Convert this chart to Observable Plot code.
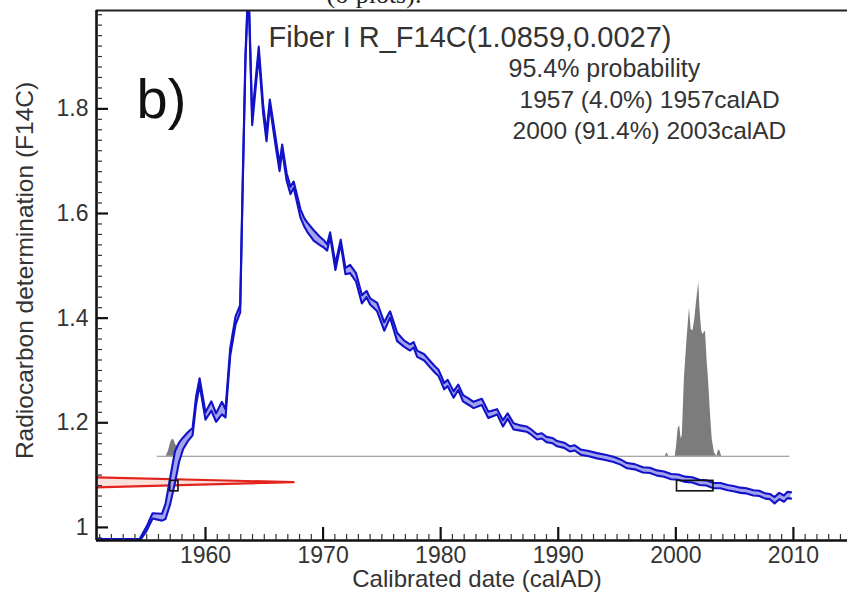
<!DOCTYPE html>
<html><head><meta charset="utf-8">
<script src="https://cdn.jsdelivr.net/npm/d3@7"></script>
<script src="https://cdn.jsdelivr.net/npm/@observablehq/plot@0.6"></script>
<style>body{margin:0;background:#fff;} #chart svg{display:block;overflow:hidden}</style>
</head><body><div id="chart"></div>
<script>
// Calibration curve (bomb curve), mean F14C and 1-sigma
const curveYears = [1950.73,1954.4,1955.0,1955.5,1956.3,1956.6,1957.0,1957.4,1957.75,1958.1,1958.5,1958.9,1959.2,1959.5,1960.0,1960.5,1960.9,1961.4,1961.7,1962.1,1962.55,1962.95,1963.15,1963.4,1963.65,1963.97,1964.53,1964.9,1965.19,1965.47,1965.95,1966.3,1966.52,1966.9,1967.23,1967.5,1968.08,1968.4,1968.65,1969.2,1969.7,1970.06,1970.35,1970.6,1971.05,1971.5,1971.9,1972.3,1972.8,1973.3,1973.7,1974.0,1974.6,1975.2,1975.7,1976.3,1976.9,1977.4,1977.7,1978.0,1978.6,1979.1,1979.5,1979.8,1980.0,1980.3,1980.6,1981.1,1981.5,1981.9,1982.4,1982.8,1983.5,1984.05,1984.8,1985.3,1985.7,1986.2,1986.8,1987.3,1987.6,1988.2,1988.6,1989.0,1989.5,1989.9,1990.5,1991.0,1991.4,1991.9,1992.6,1993.3,1994.0,1994.7,1995.3,1995.85,1996.5,1997.2,1997.8,1998.4,1999.0,1999.6,2000.2,2000.8,2001.4,2002.0,2002.6,2003.2,2003.8,2004.4,2004.9,2005.5,2006.0,2006.6,2007.1,2007.6,2008.0,2008.4,2008.8,2009.2,2009.5,2009.8];
const curveMean = [0.976,0.976,0.998,1.022,1.0195,1.0305,1.070,1.115,1.1435,1.161,1.1735,1.183,1.2425,1.2785,1.213,1.232,1.210,1.228,1.218,1.335,1.395,1.418,1.640,1.900,2.040,1.777,1.911,1.800,1.746,1.812,1.739,1.688,1.726,1.670,1.644,1.655,1.600,1.583,1.574,1.558,1.548,1.542,1.535,1.560,1.498,1.546,1.490,1.494,1.478,1.436,1.446,1.432,1.421,1.384,1.407,1.364,1.351,1.344,1.349,1.332,1.325,1.312,1.302,1.296,1.286,1.270,1.276,1.254,1.268,1.247,1.240,1.234,1.240,1.215,1.221,1.199,1.213,1.193,1.190,1.188,1.184,1.173,1.175,1.168,1.166,1.160,1.157,1.150,1.152,1.144,1.141,1.137,1.134,1.130,1.125,1.118,1.116,1.110,1.109,1.104,1.102,1.097,1.096,1.092,1.091,1.086,1.085,1.080,1.080,1.076,1.074,1.071,1.070,1.066,1.065,1.060,1.059,1.052,1.060,1.055,1.062,1.061];
const curveSigma = [0.002,0.002,0.004,0.005,0.0065,0.0145,0.025,0.030,0.0185,0.011,0.0085,0.007,0.0075,0.0065,0.007,0.009,0.008,0.012,0.008,0.007,0.008,0.007,0.006,0.006,0.008,0.008,0.008,0.008,0.008,0.006,0.008,0.007,0.006,0.007,0.007,0.006,0.008,0.008,0.009,0.010,0.008,0.007,0.006,0.004,0.006,0.004,0.006,0.008,0.008,0.008,0.006,0.006,0.008,0.008,0.006,0.008,0.006,0.006,0.005,0.006,0.006,0.006,0.006,0.006,0.006,0.006,0.006,0.006,0.005,0.006,0.006,0.006,0.006,0.006,0.005,0.006,0.005,0.006,0.005,0.005,0.005,0.005,0.005,0.005,0.005,0.005,0.005,0.005,0.005,0.005,0.005,0.005,0.005,0.005,0.005,0.005,0.005,0.005,0.005,0.005,0.005,0.005,0.005,0.005,0.005,0.005,0.005,0.005,0.005,0.005,0.005,0.005,0.005,0.005,0.005,0.005,0.005,0.006,0.006,0.006,0.006,0.006];

// Calibrated probability distributions (relative height)
const prob1957Years = [1956.65,1956.85,1957.05,1957.2,1957.35,1957.45,1957.6,1957.68,1957.72];
const prob1957 = [0,0.03,0.08,0.099,0.09,0.065,0.06,0.05,0];
const prob2000Years = [1999.1,1999.26,1999.4,1999.95,2000.05,2000.2,2000.33,2000.45,2000.55,2000.73,2000.96,2001.16,2001.3,2001.45,2001.6,2001.75,2001.95,2002.05,2002.2,2002.3,2002.52,2002.66,2002.8,2002.94,2003.09,2003.28,2003.5,2003.62,2003.73,2003.9];
const prob2000 = [0,0.02,0,0,0.05,0.16,0.175,0.1,0.12,0.45,0.68,0.85,0.73,0.72,0.78,0.88,1.0,0.85,0.72,0.70,0.72,0.55,0.42,0.25,0.1,0.02,0,0.035,0.035,0];

// Measurement (red) outline
const measurementF14C = 1.0859, measurementError = 0.0027;
const redEdgeF14C = [1.0765, 1.0865, 1.0955];
const redEdgeYear = [1950.73, 1967.5, 1950.73];

// 95.4% ranges
const rangeStart = [1957.0, 2000.1];
const rangeEnd = [1957.7, 2003.2];
const rangeLow = [1.069, 1.069];
const rangeHigh = [1.089, 1.089];
const rangeLabels = ["1957 (4.0%) 1957calAD", "2000 (91.4%) 2003calAD"];

const yTicks = [1, 1.2, 1.4, 1.6, 1.8];
const xTicks = [1960, 1970, 1980, 1990, 2000, 2010];

const X0 = 1950.73, X1 = 2014.6, Y0 = 0.975, Y1 = 1.988;
const W = 847, H = 597, ML = 96, MR = 0, MT = 10, MB = 57;
const pxX = (W - ML - MR) / (X1 - X0), pxY = (H - MT - MB) / (Y1 - Y0);
const probBase = 1.136, probScale = 0.3326;

const curve = curveYears.map((year, i) => ({year, mean: curveMean[i], sigma: curveSigma[i]}));
const p1957 = prob1957Years.map((year, i) => ({year, p: prob1957[i]}));
const p2000 = prob2000Years.map((year, i) => ({year, p: prob2000[i]}));
const red = redEdgeF14C.map((f, i) => ({f, year: redEdgeYear[i]}));
const ranges = rangeStart.map((s, i) => ({s, e: rangeEnd[i], lo: rangeLow[i], hi: rangeHigh[i]}));
const xMinor = d3.range(1951, 2015).filter(d => d % 10 !== 0);
const yMinor = d3.range(49, 100).filter(i => i % 10 !== 0).map(i => i * 0.02);

const font = "'Liberation Sans', Arial, Helvetica, sans-serif";
const blue = "#1212c8";

const chart = Plot.plot({
  width: W, height: H,
  marginLeft: ML, marginRight: MR, marginTop: MT, marginBottom: MB,
  style: {fontFamily: font, background: "#fff", overflow: "hidden"},
  x: {domain: [X0, X1], axis: null},
  y: {domain: [Y0, Y1], axis: null},
  marks: [
    // probability baseline
    Plot.ruleY([probBase], {x1: 1955.9, x2: 2009.7, stroke: "#8a8a8a", strokeWidth: 1}),
    Plot.areaY(p1957, {x: "year", y1: probBase, y2: d => probBase + d.p * probScale, fill: "#7c7c7c", curve: "linear"}),
    Plot.areaY(p2000, {x: "year", y1: probBase, y2: d => probBase + d.p * probScale, fill: "#7c7c7c", curve: "linear"}),
    // measurement
    Plot.areaX(red, {y: "f", x1: X0, x2: "year", fill: "#fbe0dc"}),
    Plot.line(red, {x: "year", y: "f", stroke: "#e3241c", strokeWidth: 2.2}),
    // calibration curve band
    Plot.areaY(curve, {x: "year", y1: d => d.mean - d.sigma, y2: d => d.mean + d.sigma, fill: "#a2a2ee", clip: true}),
    Plot.line(curve, {x: "year", y: d => d.mean + d.sigma, stroke: blue, strokeWidth: 2.1, clip: true}),
    Plot.line(curve, {x: "year", y: d => d.mean - d.sigma, stroke: blue, strokeWidth: 2.1, clip: true}),
    // range boxes
    Plot.rect(ranges, {x1: "s", x2: "e", y1: "lo", y2: "hi", fill: "none", stroke: "#111", strokeWidth: 1.6}),
    // frame
    Plot.ruleY([Y1], {stroke: "#222", strokeWidth: 2}),
    Plot.ruleX([X0], {stroke: "#111", strokeWidth: 2.6}),
    Plot.ruleY([Y0], {stroke: "#111", strokeWidth: 2.6}),
    // ticks (inward)
    Plot.ruleY(yTicks, {x1: X0, x2: X0 + 12 / pxX, stroke: "#111", strokeWidth: 2.2}),
    Plot.ruleY(yMinor, {x1: X0, x2: X0 + 6 / pxX, stroke: "#333", strokeWidth: 1.2}),
    Plot.ruleX(xTicks, {y1: Y0, y2: Y0 + 13 / pxY, stroke: "#111", strokeWidth: 2.2}),
    Plot.ruleX(xMinor, {y1: Y0, y2: Y0 + 6 / pxY, stroke: "#333", strokeWidth: 1.2}),
    // tick labels
    Plot.text(yTicks, {x: X0, y: d => d, text: d => String(d), textAnchor: "end", dx: -8, fontSize: 23, fill: "#333"}),
    Plot.text(xTicks, {x: d => d, y: Y0, text: d => String(d), lineAnchor: "bottom", dy: 22, fontSize: 23, fill: "#333"}),
    // axis titles
    Plot.text(["Calibrated date (calAD)"], {frameAnchor: "bottom", textAnchor: "middle", dx: 5, dy: 46, lineAnchor: "bottom", fontSize: 24, fill: "#333"}),
    Plot.text(["Radiocarbon determination (F14C)"], {frameAnchor: "left", textAnchor: "middle", rotate: -90, dx: -64, dy: -5, lineAnchor: "bottom", fontSize: 24.5, fill: "#333"}),
    // annotations
    Plot.text(["b)"], {frameAnchor: "top-left", dx: 40, dy: 107, lineAnchor: "bottom", textAnchor: "start", fontSize: 56, fill: "#111"}),
    Plot.text([`Fiber I R_F14C(${measurementF14C},${measurementError})`], {frameAnchor: "top-left", dx: 172, dy: 36, lineAnchor: "bottom", textAnchor: "start", fontSize: 29, fill: "#333"}),
    Plot.text(["95.4% probability"], {frameAnchor: "top-left", dx: 412, dy: 66, lineAnchor: "bottom", textAnchor: "start", fontSize: 25, fill: "#333"}),
    Plot.text([rangeLabels[0]], {frameAnchor: "top-left", dx: 423, dy: 97, lineAnchor: "bottom", textAnchor: "start", fontSize: 24.5, fill: "#333"}),
    Plot.text([rangeLabels[1]], {frameAnchor: "top-left", dx: 416, dy: 128, lineAnchor: "bottom", textAnchor: "start", fontSize: 24.5, fill: "#333"}),
    Plot.text(["(σ plots)."], {frameAnchor: "top-left", dx: 230, dy: -8, lineAnchor: "bottom", textAnchor: "start", fontSize: 26, fontFamily: "'Liberation Serif', 'Times New Roman', serif", fill: "#222"})
  ]
});
document.getElementById("chart").appendChild(chart);
</script>
</body></html>
